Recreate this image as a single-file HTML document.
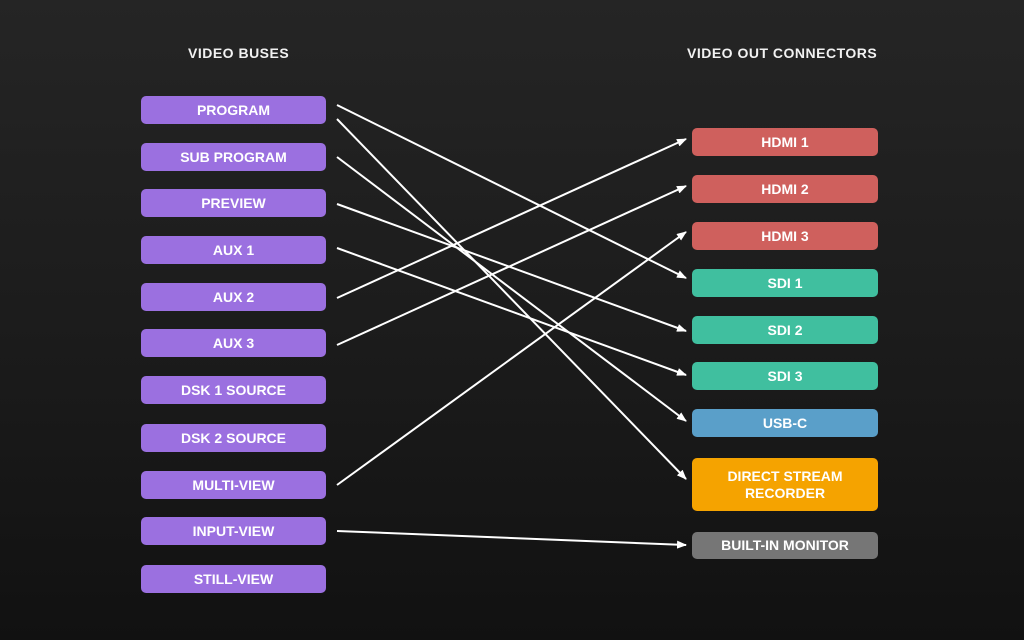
<!DOCTYPE html>
<html><head><meta charset="utf-8"><style>
html,body{margin:0;padding:0}
body{width:1024px;height:640px;overflow:hidden;background:linear-gradient(180deg,#252525 0%,#1a1a1a 60%,#111 100%);font-family:"Liberation Sans",sans-serif;position:relative}
.h{position:absolute;color:#f2f2f2;font-weight:bold;font-size:14px;letter-spacing:0.5px}
.b{position:absolute;height:28px;border-radius:5px;color:#fff;font-weight:bold;font-size:14px;display:flex;align-items:center;justify-content:center;text-align:center;line-height:17px}
.l{left:141px;width:185px;background:#9b70e0}
.r{left:692px;width:186px}
.red{background:#cf605d}.tl{background:#40bf9f}.bl{background:#5a9fc9}.or{background:#f5a300}.gr{background:#767676}
svg{position:absolute;left:0;top:0}
</style></head><body>
<div class="h" style="left:188px;top:45px">VIDEO BUSES</div>
<div class="h" style="left:687px;top:45px">VIDEO OUT CONNECTORS</div>
<div class="b l" style="top:96px">PROGRAM</div>
<div class="b l" style="top:143px">SUB PROGRAM</div>
<div class="b l" style="top:189px">PREVIEW</div>
<div class="b l" style="top:236px">AUX 1</div>
<div class="b l" style="top:283px">AUX 2</div>
<div class="b l" style="top:329px">AUX 3</div>
<div class="b l" style="top:376px">DSK 1 SOURCE</div>
<div class="b l" style="top:424px">DSK 2 SOURCE</div>
<div class="b l" style="top:471px">MULTI-VIEW</div>
<div class="b l" style="top:517px">INPUT-VIEW</div>
<div class="b l" style="top:565px">STILL-VIEW</div>
<div class="b r red" style="top:128px">HDMI 1</div>
<div class="b r red" style="top:175px">HDMI 2</div>
<div class="b r red" style="top:222px">HDMI 3</div>
<div class="b r tl" style="top:269px">SDI 1</div>
<div class="b r tl" style="top:316px">SDI 2</div>
<div class="b r tl" style="top:362px">SDI 3</div>
<div class="b r bl" style="top:409px">USB-C</div>
<div class="b r or" style="top:458px;height:53px">DIRECT STREAM<br>RECORDER</div>
<div class="b r gr" style="top:532px;height:27px">BUILT-IN MONITOR</div>
<svg width="1024" height="640">
<defs><marker id="a" markerWidth="10" markerHeight="8" refX="9" refY="4" orient="auto" markerUnits="userSpaceOnUse"><path d="M0,0 L10,4 L0,8 Z" fill="#fff"/></marker></defs>
<g stroke="#fff" stroke-width="2" fill="none" marker-end="url(#a)">
<line x1="337" y1="105" x2="686" y2="278"/>
<line x1="337" y1="119" x2="686" y2="479"/>
<line x1="337" y1="157" x2="686" y2="421"/>
<line x1="337" y1="204" x2="686" y2="331"/>
<line x1="337" y1="248" x2="686" y2="375"/>
<line x1="337" y1="298" x2="686" y2="139"/>
<line x1="337" y1="345" x2="686" y2="186"/>
<line x1="337" y1="485" x2="686" y2="232"/>
<line x1="337" y1="531" x2="686" y2="545"/>
</g></svg>
</body></html>
